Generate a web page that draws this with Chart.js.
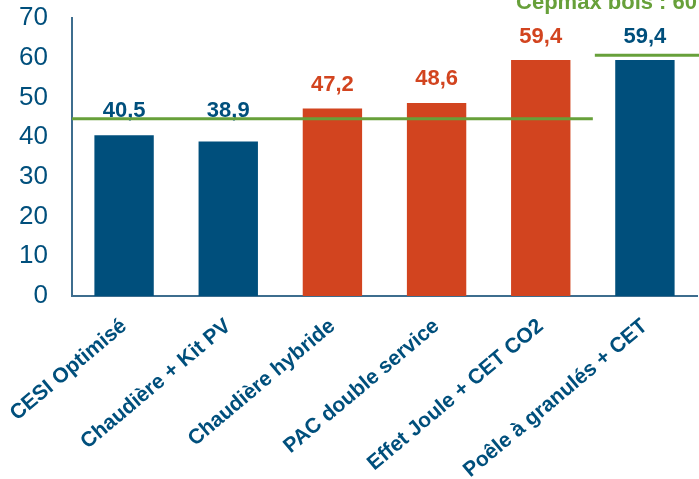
<!DOCTYPE html>
<html>
<head>
<meta charset="utf-8">
<script src="https://cdn.jsdelivr.net/npm/chart.js@4"></script>
<style>
  html, body { margin: 0; padding: 0; background: #fff; }
  #wrap { width: 699px; height: 479px; position: relative; }
</style>
</head>
<body>
<div id="wrap"><canvas id="chart" width="699" height="479"></canvas></div>
<script>
// --- Data ---
const categories = ['CESI Optimisé', 'Chaudière + Kit PV', 'Chaudière hybride', 'PAC double service', 'Effet Joule + CET CO2', 'Poêle à granulés + CET'];
const values = [40.5, 38.9, 47.2, 48.6, 59.4, 59.4];
const valueLabels = ['40,5', '38,9', '47,2', '48,6', '59,4', '59,4'];
const barKinds = ['blue', 'blue', 'orange', 'orange', 'orange', 'blue'];
const thresholds = [44.6, 60.6];
const thresholdTitle = 'Cepmax bois : 60';
const yTicks = [0, 10, 20, 30, 40, 50, 60, 70];

// --- Styles ---
const BLUE = '#004f7c';
const ORANGE = '#d2441f';
const GREEN = '#67a03a';
const AXIS = '#3d6d8e';
const FONT = '"Liberation Sans", Arial, sans-serif';
const labelGap = [18, 25, 18, 18, 17, 17];

const colours = barKinds.map(k => k === 'blue' ? BLUE : ORANGE);

// value labels + threshold lines
const overlay = {
    id: 'overlay',
    afterDatasetsDraw(chart) {
        const ctx = chart.ctx;
        const x = chart.scales.x;
        const y = chart.scales.y;
        const meta = chart.getDatasetMeta(0);

        ctx.save();
        ctx.font = 'bold 22px ' + FONT;
        ctx.textAlign = 'center';
        ctx.textBaseline = 'alphabetic';
        meta.data.forEach((bar, i) => {
            ctx.fillStyle = colours[i];
            ctx.fillText(valueLabels[i], bar.x, bar.y - labelGap[i]);
        });

        // green lines
        const split = (x.getPixelForValue(4) + x.getPixelForValue(5)) / 2;
        ctx.strokeStyle = GREEN;
        ctx.lineWidth = 3;
        let py = y.getPixelForValue(thresholds[0]);
        ctx.beginPath();
        ctx.moveTo(x.left, py);
        ctx.lineTo(split, py);
        ctx.stroke();
        py = y.getPixelForValue(thresholds[1]);
        ctx.beginPath();
        ctx.moveTo(split + 2, py);
        ctx.lineTo(chart.width, py);
        ctx.stroke();

        ctx.fillStyle = GREEN;
        ctx.textAlign = 'right';
        ctx.fillText(thresholdTitle, chart.width - 2, 9);
        ctx.restore();
    }
};

new Chart(document.getElementById('chart').getContext('2d'), {
    type: 'bar',
    data: {
        labels: categories,
        datasets: [{
            data: values,
            backgroundColor: colours,
            categoryPercentage: 1,
            barPercentage: 0.57
        }]
    },
    options: {
        responsive: false,
        animation: false,
        layout: { padding: { top: 18, right: 2, left: 0, bottom: 0 } },
        plugins: { legend: { display: false }, tooltip: { enabled: false } },
        scales: {
            x: {
                grid: { display: false, drawTicks: false },
                border: { color: AXIS, width: 2 },
                ticks: {
                    color: BLUE,
                    font: { family: FONT, size: 21, weight: 'bold' },
                    minRotation: 40,
                    maxRotation: 40,
                    padding: 18,
                    autoSkip: false
                },
                afterFit(scale) {
                    scale.height = 183;
                    scale.paddingLeft = 0;
                    scale.paddingRight = 0;
                }
            },
            y: {
                min: 0,
                max: 70,
                afterBuildTicks(scale) { scale.ticks = yTicks.map(v => ({ value: v })); },
                grid: { display: false, drawTicks: false },
                border: { color: AXIS, width: 2 },
                ticks: {
                    color: BLUE,
                    font: { family: FONT, size: 26 },
                    padding: 24
                },
                afterFit(scale) {
                    scale.width = 72;
                    scale.paddingTop = 0;
                    scale.paddingBottom = 0;
                }
            }
        }
    },
    plugins: [overlay]
});
</script>
</body>
</html>
